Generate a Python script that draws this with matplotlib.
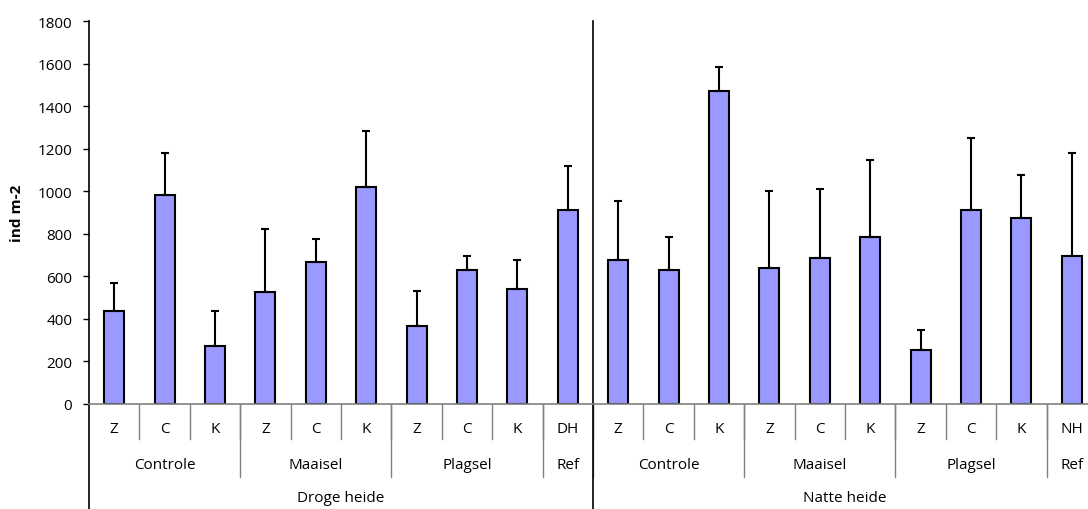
import matplotlib.pyplot as plt

plt.rcParams['font.family'] = ['Open Sans', 'DejaVu Sans']

treatments = ['Z', 'C', 'K', 'Z', 'C', 'K', 'Z', 'C', 'K', 'DH',
              'Z', 'C', 'K', 'Z', 'C', 'K', 'Z', 'C', 'K', 'NH']
groups = ['Controle', 'Maaisel', 'Plagsel', 'Ref',
          'Controle', 'Maaisel', 'Plagsel', 'Ref']
group_sizes = [3, 3, 3, 1, 3, 3, 3, 1]
habitats = ['Droge heide', 'Natte heide']

# mean and top of error bar (ind m-2)
means = [438, 982, 274, 528, 667, 1021, 365, 630, 540, 912,
         677, 630, 1471, 638, 688, 785, 254, 910, 873, 696]
err_tops = [567, 1178, 437, 824, 777, 1282, 533, 697, 677, 1119,
            953, 785, 1584, 1000, 1012, 1147, 348, 1252, 1076, 1180]

errs = [t - m for t, m in zip(err_tops, means)]
x = list(range(len(means)))

fig = plt.figure(figsize=(10.88, 5.10), dpi=100)
ax = fig.add_axes([89 / 1088, 105 / 510, 1008 / 1088, 383 / 510])

ax.bar(x, means, width=0.4, color='#9999ff', edgecolor='black', linewidth=1.5, zorder=2)
ax.errorbar(x, means, yerr=[[0] * len(errs), errs], fmt='none', ecolor='black',
            elinewidth=1.5, capsize=3, capthick=1.5, zorder=3)

ax.set_xlim(-0.5, len(means) - 0.5)
ax.set_ylim(0, 1800)
ax.set_yticks(range(0, 1801, 200))
ax.tick_params(axis='y', labelsize=11, length=4, width=1, direction='out', pad=8)
ax.set_xticks([])
ax.set_ylabel('ind m-2', fontsize=11, fontweight='bold', labelpad=10)

for s in ['top', 'right']:
    ax.spines[s].set_visible(False)
ax.spines['bottom'].set_color('#808080')
ax.spines['bottom'].set_linewidth(1.2)
ax.spines['left'].set_linewidth(1.2)

tr = ax.get_xaxis_transform()
row1 = -35 / 383
row2 = -73 / 383
row3 = -105 / 383

# treatment labels and separators
for i, lab in enumerate(treatments):
    ax.text(i, -25 / 383, lab, transform=tr, ha='center', va='center', fontsize=11)
for i in range(1, len(treatments)):
    ax.plot([i - 0.5, i - 0.5], [0, row1], transform=tr, color='#808080', lw=1, clip_on=False)

# group labels and separators
start = 0
for g, n in zip(groups, group_sizes):
    ax.text(start + (n - 1) / 2, -61 / 383, g, transform=tr, ha='center', va='center', fontsize=11)
    if start > 0:
        ax.plot([start - 0.5, start - 0.5], [0, row2], transform=tr, color='#808080', lw=1, clip_on=False)
    start += n

# habitat labels and divider
half = len(means) // 2
for k, h in enumerate(habitats):
    ax.text(k * half + (half - 1) / 2, -94 / 383, h, transform=tr, ha='center', va='center', fontsize=11)
ax.plot([half - 0.5, half - 0.5], [1, row3], transform=tr, color='black', lw=1.2, clip_on=False)
ax.plot([-0.5, -0.5], [0, row3], transform=tr, color='black', lw=1.2, clip_on=False)

fig.savefig('out.png', dpi=100)
